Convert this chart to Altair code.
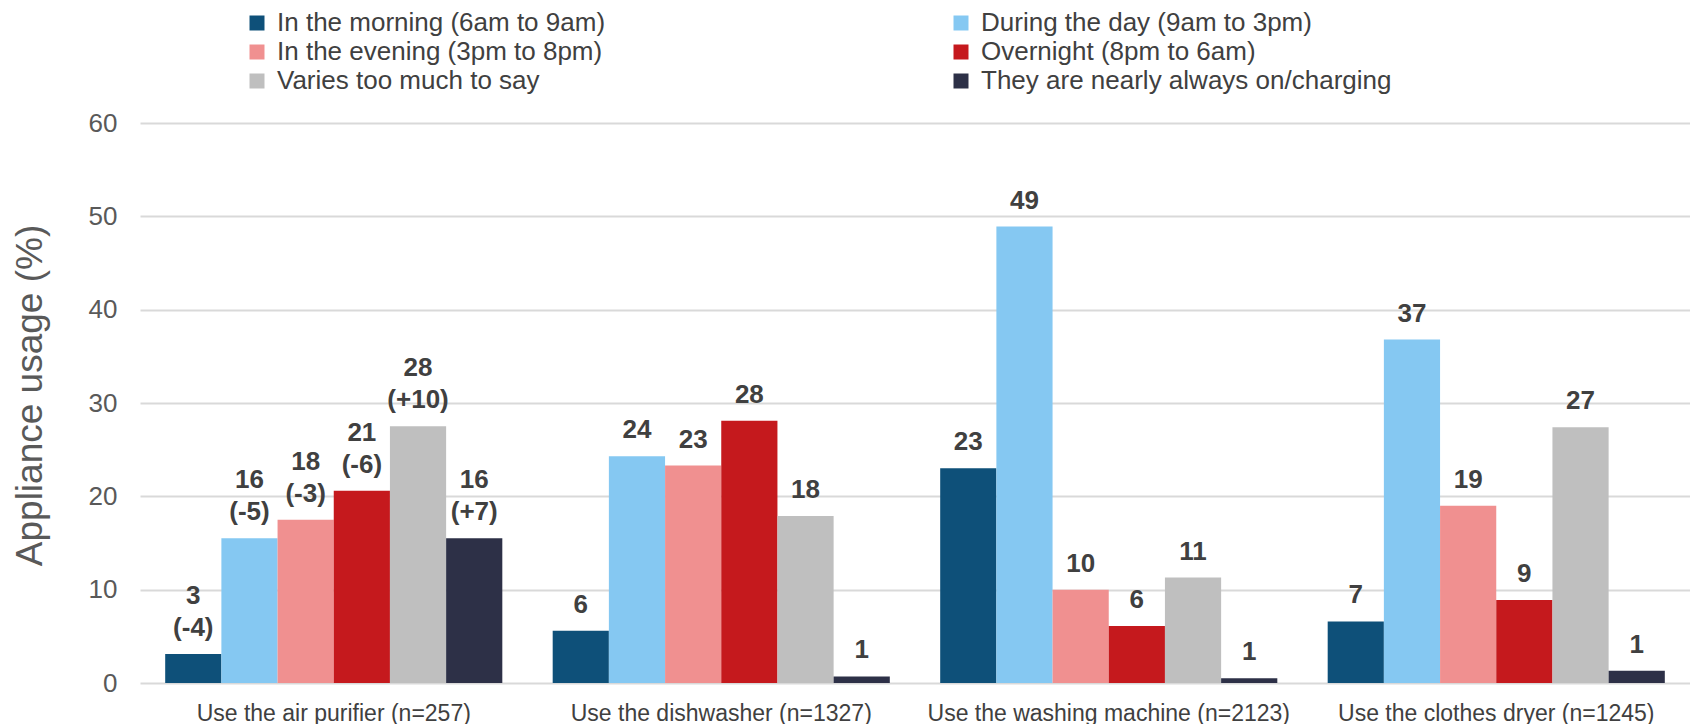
import altair as alt
import pandas as pd

categories = [
    "Use the air purifier (n=257)",
    "Use the dishwasher (n=1327)",
    "Use the washing machine (n=2123)",
    "Use the clothes dryer (n=1245)",
]
series = [
    "In the morning (6am to 9am)",
    "During the day (9am to 3pm)",
    "In the evening (3pm to 8pm)",
    "Overnight (8pm to 6am)",
    "Varies too much to say",
    "They are nearly always on/charging",
]
colors = ["#0E5079", "#85C8F2", "#F09090", "#C5191D", "#BFBFBF", "#2D3047"]

air_purifier = [3.1, 15.5, 17.5, 20.6, 27.5, 15.5]
dishwasher = [5.6, 24.3, 23.3, 28.1, 17.9, 0.7]
washing_machine = [23.0, 48.9, 10.0, 6.1, 11.3, 0.5]
clothes_dryer = [6.6, 36.8, 19.0, 8.9, 27.4, 1.3]

air_purifier_labels = ["3", "16", "18", "21", "28", "16"]
air_purifier_change = ["(-4)", "(-5)", "(-3)", "(-6)", "(+10)", "(+7)"]
dishwasher_labels = ["6", "24", "23", "28", "18", "1"]
washing_machine_labels = ["23", "49", "10", "6", "11", "1"]
clothes_dryer_labels = ["7", "37", "19", "9", "27", "1"]

values = [air_purifier, dishwasher, washing_machine, clothes_dryer]
labels = [air_purifier_labels, dishwasher_labels, washing_machine_labels, clothes_dryer_labels]
changes = [air_purifier_change, None, None, None]

rows = []
for ci, cat in enumerate(categories):
    for si, s in enumerate(series):
        ch = changes[ci]
        if ch is not None:
            upper, lower = labels[ci][si], ch[si]
        else:
            upper, lower = "", labels[ci][si]
        rows.append({"category": cat, "series": s, "value": values[ci][si],
                     "upper": upper, "lower": lower})
df = pd.DataFrame(rows)

# legend fills column by column: order the colour domain so rows read as in the reference
legend_order = [0, 2, 4, 1, 3, 5]
legend_domain = [series[i] for i in legend_order]
legend_range = [colors[i] for i in legend_order]

FONT = "Liberation Sans"

x = alt.X(
    "category:N",
    sort=categories,
    scale=alt.Scale(paddingInner=0.13, paddingOuter=0.065),
    axis=alt.Axis(
        title=None, labelAngle=0, labelFontSize=23, labelColor="#404040", labelFont=FONT,
        domain=False, ticks=False, tickSize=0, labelPadding=19, labelLimit=1000,
    ),
)
xo = alt.XOffset("series:N", sort=series, scale=alt.Scale(paddingInner=0, paddingOuter=0))
y = alt.Y(
    "value:Q",
    scale=alt.Scale(domain=[0, 60], nice=False),
    axis=alt.Axis(
        values=[0, 10, 20, 30, 40, 50, 60], grid=True, gridColor="#D9D9D9", gridWidth=2,
        domain=False, ticks=False, tickSize=0, labelFontSize=26, labelColor="#595959",
        labelFont=FONT, labelPadding=23,
        title="Appliance usage (%)", titleFontSize=37, titleFontWeight="normal",
        titleColor="#595959", titleFont=FONT, titleAngle=270, titleBaseline="middle",
        titleX=-110, titleY=272, titleAlign="center",
    ),
)

bars = alt.Chart(df).mark_bar().encode(
    x=x,
    xOffset=xo,
    y=y,
    color=alt.Color(
        "series:N",
        scale=alt.Scale(domain=legend_domain, range=legend_range),
        legend=alt.Legend(
            title=None, orient="none", legendX=104, legendY=-113, columns=2,
            columnPadding=342, rowPadding=3, symbolType="square", symbolSize=225,
            symbolStrokeWidth=0, labelFontSize=26, labelColor="#404040", labelFont=FONT,
            labelOffset=7, labelLimit=1000, padding=0,
        ),
    ),
)

text_style = dict(baseline="alphabetic", fontSize=26, fontWeight="bold",
                  color="#404040", font=FONT)

lower_text = alt.Chart(df).mark_text(dy=-18, **text_style).encode(
    x=alt.X("category:N", sort=categories),
    xOffset=alt.XOffset("series:N", sort=series),
    y="value:Q",
    text="lower:N",
)
upper_text = alt.Chart(df).mark_text(dy=-50, **text_style).encode(
    x=alt.X("category:N", sort=categories),
    xOffset=alt.XOffset("series:N", sort=series),
    y="value:Q",
    text="upper:N",
)

chart = alt.layer(bars, lower_text, upper_text).properties(
    width=1550,
    height=560,
    autosize=alt.AutoSizeParams(type="none"),
    padding={"left": 132, "top": 115, "right": 0, "bottom": 41},
).configure_view(stroke=None)

chart.save("out.html", embed_options={"renderer": "svg", "actions": False})
